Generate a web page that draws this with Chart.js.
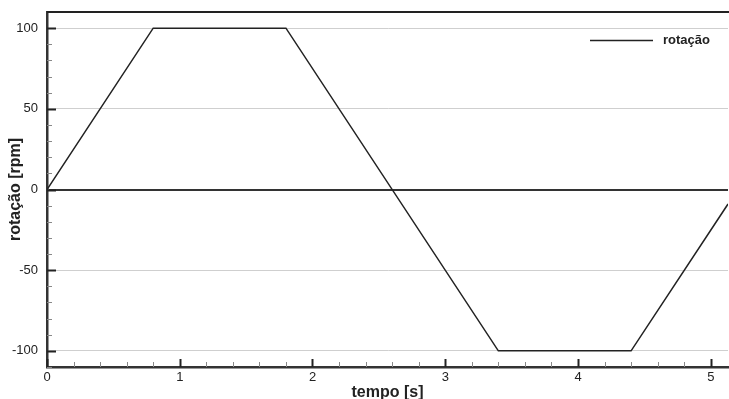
<!DOCTYPE html>
<html>
<head>
<meta charset="utf-8">
<script src="https://cdn.jsdelivr.net/npm/chart.js@4"></script>
<style>
  html, body { margin: 0; padding: 0; background: #fff; }
  #wrap { width: 729px; height: 399px; }
</style>
</head>
<body>
<div id="wrap"><canvas id="chart" width="729" height="399"></canvas></div>
<script>
// tempo [s] and rotação [rpm]
const tempo   = [0, 0.8, 1.8, 3.4, 4.4, 5.13];
const rotacao = [0, 100, 100, -100, -100, -9];
const xTicks = [0, 1, 2, 3, 4, 5];
const yTicks = [-100, -50, 0, 50, 100];
const seriesLabel = 'rotação';

const FONT = "'Liberation Sans', Arial, sans-serif";

// inside ticks (major + minor), top frame, legend
const frame = {
  id: 'frame',
  afterDraw(chart) {
    const { ctx, chartArea: a, scales: { x, y } } = chart;
    ctx.save();
    for (let v = 0; v <= x.max + 1e-9; v += 0.2) {
      const px = Math.round(x.getPixelForValue(v)) + 0.5;
      const major = Math.abs(v - Math.round(v)) < 1e-6;
      ctx.lineWidth = major ? 2 : 1;
      ctx.strokeStyle = major ? '#222' : '#888';
      ctx.beginPath();
      ctx.moveTo(px, a.bottom);
      ctx.lineTo(px, a.bottom - (major ? 8 : 5));
      ctx.stroke();
    }
    for (let v = -110; v <= 110; v += 10) {
      if (v < y.min || v > y.max) continue;
      const py = Math.round(y.getPixelForValue(v)) + 0.5;
      const major = v % 50 === 0;
      ctx.lineWidth = major ? 2 : 1;
      ctx.strokeStyle = major ? '#222' : '#888';
      ctx.beginPath();
      ctx.moveTo(a.left, py);
      ctx.lineTo(a.left + (major ? 9 : 5), py);
      ctx.stroke();
    }
    // top frame
    ctx.lineWidth = 2;
    ctx.strokeStyle = '#222';
    ctx.beginPath();
    ctx.moveTo(a.left, a.top);
    ctx.lineTo(a.right + 2, a.top);
    ctx.stroke();
    // legend
    ctx.lineWidth = 1.6;
    ctx.strokeStyle = '#222';
    ctx.beginPath();
    ctx.moveTo(590, 40.5);
    ctx.lineTo(653, 40.5);
    ctx.stroke();
    ctx.fillStyle = '#222';
    ctx.font = 'bold 13px ' + FONT;
    ctx.textBaseline = 'middle';
    ctx.fillText(seriesLabel, 663, 40);
    ctx.restore();
  }
};

new Chart(document.getElementById('chart'), {
  type: 'scatter',
  data: {
    datasets: [{
      label: seriesLabel,
      data: tempo.map((t, i) => ({ x: t, y: rotacao[i] })),
      showLine: true,
      borderColor: '#222',
      borderWidth: 1.5,
      pointRadius: 0,
      tension: 0
    }]
  },
  options: {
    responsive: false,
    animation: false,
    layout: { padding: { top: 12, right: 1, left: 0, bottom: 0 } },
    plugins: { legend: { display: false }, tooltip: { enabled: false } },
    scales: {
      x: {
        type: 'linear',
        min: 0,
        max: 5.13,
        afterBuildTicks: s => { s.ticks = xTicks.map(v => ({ value: v })); },
        afterFit: s => { s.height = 32; s.paddingLeft = 0; s.paddingRight = 0; },
        grid: { display: false, drawTicks: false },
        border: { display: true, color: '#333', width: 2.5 },
        ticks: { color: '#222', font: { family: FONT, size: 13 }, padding: 3, maxRotation: 0 },
        title: { display: true, text: 'tempo [s]', color: '#222', font: { family: FONT, size: 16, weight: 'bold' }, padding: { top: 0, bottom: -3 } }
      },
      y: {
        min: -110,
        max: 110,
        afterBuildTicks: s => { s.ticks = yTicks.map(v => ({ value: v })); },
        afterFit: s => { s.width = 47; s.paddingTop = 0; s.paddingBottom = 0; },
        grid: {
          drawTicks: false,
          color: c => c.tick && c.tick.value === 0 ? '#333' : '#cfcfcf',
          lineWidth: c => c.tick && c.tick.value === 0 ? 2 : 1
        },
        border: { display: true, color: '#333', width: 2.5 },
        ticks: { color: '#222', font: { family: FONT, size: 13 }, padding: 9 },
        title: { display: true, text: 'rotação [rpm]', color: '#222', font: { family: FONT, size: 16, weight: 'bold' }, padding: { top: 6, bottom: 0 } }
      }
    }
  },
  plugins: [frame]
});
</script>
</body>
</html>
